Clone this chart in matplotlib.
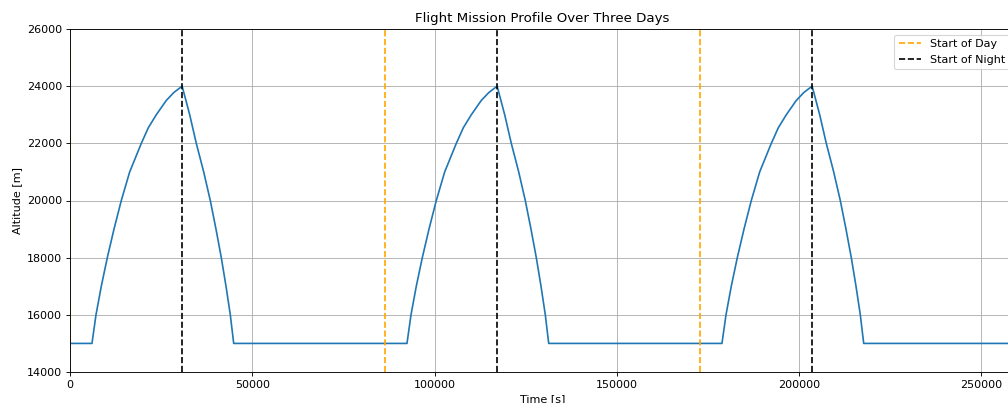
import matplotlib
matplotlib.use("Agg")
import matplotlib.pyplot as plt
import numpy as np

# day starts (s) and night starts (s), three days
day_starts = [0, 86400, 172800]
night_offset = 30750

# one day's altitude profile (time since day start)
prof_t = [0, 6030, 7130, 8580, 10230, 12070, 14070, 16370, 19560, 21500, 23670,
          26410, 28500, 30750, 31800, 32830, 34640, 36670, 38480, 40040, 41500,
          42790, 43970, 44900, 86400]
prof_alt = [15000, 15000, 16000, 17000, 18000, 19000, 20000, 21000, 22000, 22550,
            23000, 23500, 23780, 24000, 23500, 23000, 22000, 21000, 20000, 19000,
            18000, 17000, 16000, 15000, 15000]

t = np.concatenate([np.array(prof_t) + d for d in day_starts])
alt = np.concatenate([prof_alt for d in day_starts])

fig = plt.figure(figsize=(12.6, 5.0375), dpi=80)
ax = fig.add_axes([70/1008, 31/403, 945/1008, 343/403])

ax.plot(t, alt)
for i, d in enumerate(day_starts):
    ax.axvline(d, color='orange', linestyle='--', label='Start of Day' if i == 0 else None)
    ax.axvline(d + night_offset, color='black', linestyle='--',
               label='Start of Night' if i == 0 else None)

ax.set_xlim(0, 259200)
ax.set_ylim(14000, 26000)
ax.set_xlabel('Time [s]')
ax.set_ylabel('Altitude [m]')
ax.set_title('Flight Mission Profile Over Three Days')
ax.grid(True)
ax.legend(loc='upper right')

fig.savefig('out.png', dpi=80)
